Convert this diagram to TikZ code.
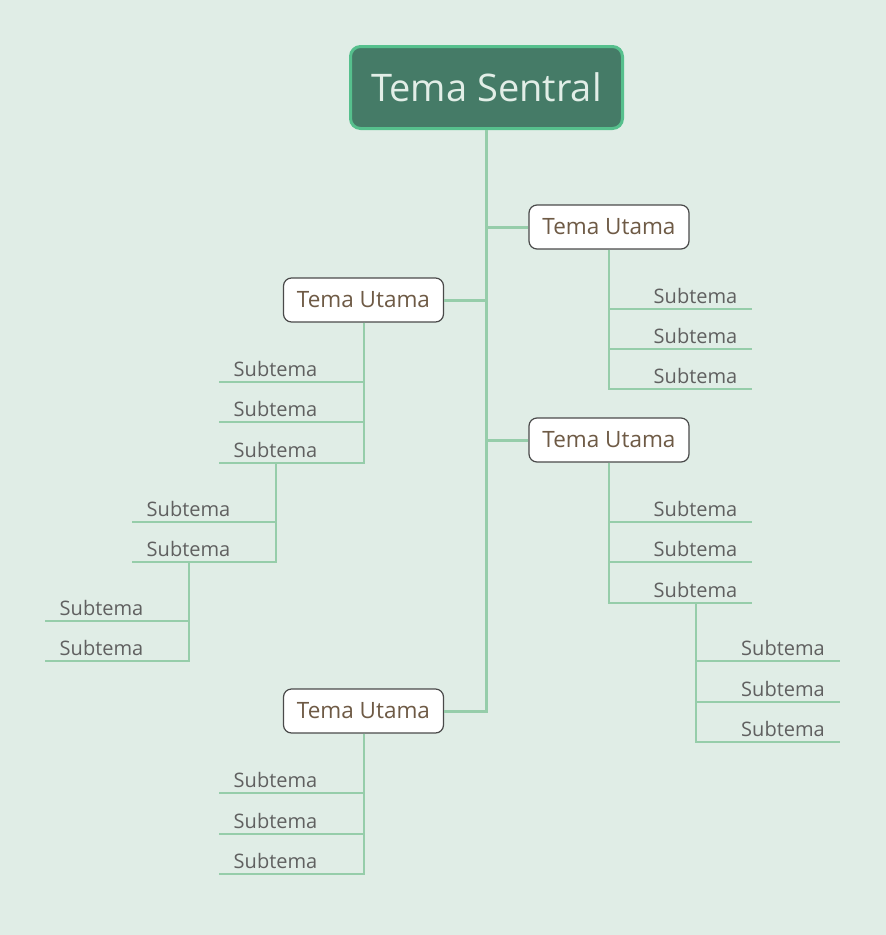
\documentclass[tikz,border=0pt]{standalone}
\usepackage{fontspec}
\setmainfont{Open Sans}
\usetikzlibrary{positioning}
\definecolor{mBack}{HTML}{E0EDE6}
\definecolor{mCore}{HTML}{457B67}
\definecolor{mRim}{HTML}{56C08D}
\definecolor{mPale}{HTML}{E2EEE7}
\definecolor{mLine}{HTML}{96CDAA}
\definecolor{mEdge}{HTML}{4A4A4A}
\definecolor{mBrown}{HTML}{6E5A45}
\definecolor{mGray}{HTML}{606060}
\begin{document}
\begin{tikzpicture}[x=1pt, y=-1pt,
    central/.style={draw=mRim, fill=mCore, line width=3pt, rounded corners=10pt,
      minimum width=272pt, minimum height=82pt, text=mPale, font=\fontsize{38}{42}\selectfont},
    topic/.style={draw=mEdge, fill=white, line width=1.2pt, rounded corners=8pt,
      minimum width=160pt, minimum height=44pt, text=mBrown, font=\fontsize{22.5}{26}\selectfont},
    subtopic/.style={anchor=south, inner sep=0pt, minimum width=113pt, minimum height=26pt,
      text=mGray, font=\fontsize{20}{22}\selectfont},
    trunk/.style={draw=mLine, line width=3pt},
    link/.style={draw=mLine, line width=2pt}]
  \fill[mBack] (0,0) rectangle (886,935);
  \useasboundingbox (0,0) rectangle (886,935);

  % central theme and main topics
  \node[central] (cen) at (486.5,87.5) {Tema Sentral};
  \node[topic] (t1) at (609,227) {Tema Utama};
  \node[topic] (t2) at (363.5,300) {Tema Utama};
  \node[topic] (t3) at (609,440) {Tema Utama};
  \node[topic] (t4) at (363.5,711) {Tema Utama};
  \draw[trunk] (cen.south) |- (t1.west);
  \draw[trunk] (cen.south) |- (t2.east);
  \draw[trunk] (cen.south) |- (t3.west);
  \draw[trunk] (cen.south) |- (t4.east);

  % subtopics of t1
  \node[subtopic] (a1) at (695.5,309) {Subtema};
  \node[subtopic] (a2) at (695.5,349) {Subtema};
  \node[subtopic] (a3) at (695.5,389) {Subtema};
  \foreach \s in {a1,a2,a3}
    \draw[link] (t1.south) |- (\s.south west) -- (\s.south east);

  % subtopics of t2, two levels deeper
  \node[subtopic] (b1) at (275.5,382) {Subtema};
  \node[subtopic] (b2) at (275.5,422) {Subtema};
  \node[subtopic] (b3) at (275.5,463) {Subtema};
  \foreach \s in {b1,b2,b3}
    \draw[link] (t2.south) |- (\s.south east) -- (\s.south west);
  \node[subtopic] (c1) at (188.5,522) {Subtema};
  \node[subtopic] (c2) at (188.5,562) {Subtema};
  \foreach \s in {c1,c2}
    \draw[link] (b3.south) |- (\s.south east) -- (\s.south west);
  \node[subtopic] (d1) at (101.5,621) {Subtema};
  \node[subtopic] (d2) at (101.5,661) {Subtema};
  \foreach \s in {d1,d2}
    \draw[link] (c2.south) |- (\s.south east) -- (\s.south west);

  % subtopics of t3
  \node[subtopic] (e1) at (695.5,522) {Subtema};
  \node[subtopic] (e2) at (695.5,562) {Subtema};
  \node[subtopic] (e3) at (695.5,603) {Subtema};
  \foreach \s in {e1,e2,e3}
    \draw[link] (t3.south) |- (\s.south west) -- (\s.south east);
  \node[subtopic] (f1) at (783,661) {Subtema};
  \node[subtopic] (f2) at (783,702) {Subtema};
  \node[subtopic] (f3) at (783,742) {Subtema};
  \foreach \s in {f1,f2,f3}
    \draw[link] (e3.south) |- (\s.south west) -- (\s.south east);

  % subtopics of t4
  \node[subtopic] (g1) at (275.5,793) {Subtema};
  \node[subtopic] (g2) at (275.5,834) {Subtema};
  \node[subtopic] (g3) at (275.5,874) {Subtema};
  \foreach \s in {g1,g2,g3}
    \draw[link] (t4.south) |- (\s.south east) -- (\s.south west);
\end{tikzpicture}
\end{document}
